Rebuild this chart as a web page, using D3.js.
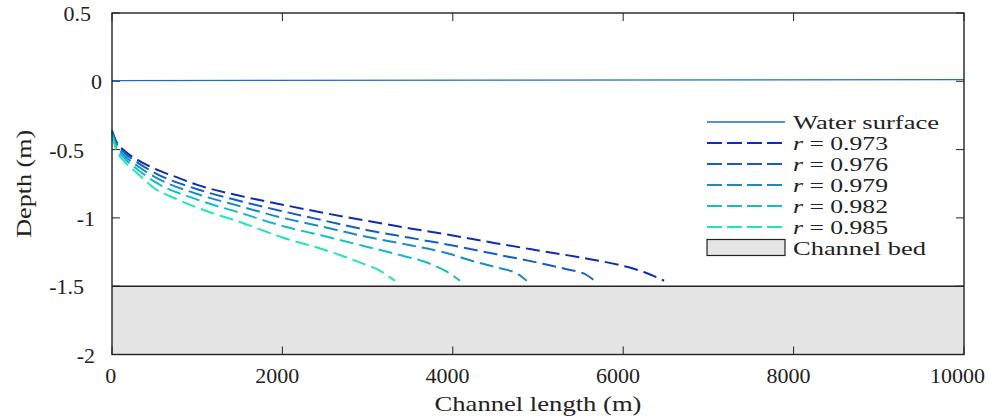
<!DOCTYPE html>
<html><head><meta charset="utf-8">
<script src="https://cdn.jsdelivr.net/npm/d3@7/dist/d3.min.js"></script>
<style>
html,body{margin:0;padding:0;background:#fff;}
svg{display:block;}
text{font-family:"Liberation Serif","Times New Roman",serif;fill:#222;}
</style></head>
<body>
<svg id="chart" width="989" height="419" font-family="Liberation Serif, serif"></svg>
<script>
// ---- data ----
const xTicks = [0, 2000, 4000, 6000, 8000, 10000];
const yTicks = [0.5, 0, -0.5, -1, -1.5, -2];
const yTickLabels = ["0.5", "0", "-0.5", "-1", "-1.5", "-2"];
const xTickLabels = ["0", "2000", "4000", "6000", "8000", "10000"];
const xLabel = "Channel length (m)";
const yLabel = "Depth (m)";
const bedDepth = -1.5;
const surfaceX = [0, 10000];
const surfaceY = [0.005, 0.012];
const rValues = ["0.973", "0.976", "0.979", "0.982", "0.985"];
const x973 = [0, 50, 150, 300, 500, 750, 1000, 1500, 2000, 2500, 3000, 3500, 4000, 4500, 5000, 5500, 6000, 6250, 6480];
const y973 = [-0.36, -0.44, -0.51, -0.575, -0.64, -0.70, -0.758, -0.838, -0.903, -0.965, -1.022, -1.077, -1.129, -1.185, -1.238, -1.29, -1.352, -1.398, -1.46];
const x976 = [0, 50, 150, 300, 500, 1000, 1500, 2000, 2500, 3000, 3500, 4000, 4500, 5000, 5336, 5571, 5665];
const y976 = [-0.37, -0.45, -0.525, -0.595, -0.67, -0.79, -0.876, -0.951, -1.021, -1.09, -1.146, -1.202, -1.265, -1.328, -1.376, -1.418, -1.46];
const x979 = [0, 50, 150, 300, 500, 1000, 1500, 2000, 2500, 3000, 3500, 4000, 4163, 4554, 4750, 4867];
const y979 = [-0.38, -0.465, -0.545, -0.62, -0.70, -0.825, -0.914, -0.999, -1.069, -1.14, -1.20, -1.27, -1.303, -1.369, -1.406, -1.46];
const x982 = [0, 50, 150, 300, 500, 1000, 1500, 2000, 2500, 3000, 3380, 3750, 3930, 4085];
const y982 = [-0.39, -0.48, -0.565, -0.645, -0.735, -0.866, -0.962, -1.059, -1.134, -1.213, -1.272, -1.34, -1.394, -1.46];
const x985 = [0, 50, 150, 300, 500, 750, 1000, 1500, 2000, 2500, 3000, 3150, 3263, 3320];
const y985 = [-0.40, -0.50, -0.59, -0.675, -0.785, -0.86, -0.925, -1.03, -1.143, -1.235, -1.348, -1.387, -1.435, -1.46];
const seriesX = [x973, x976, x979, x982, x985];
const seriesY = [y973, y976, y979, y982, y985];
const legendLabels = ["Water surface", "r = 0.973", "r = 0.976", "r = 0.979", "r = 0.982", "r = 0.985", "Channel bed"];

// ---- styles ----
const colors = ["#0f2db3", "#145ec6", "#1a8cc2", "#12bec4", "#1fe6b9"];
const surfaceColor = "#1f6ebc";
const axisColor = "#222";

const svg = d3.select("#chart");
const L = 112, R = 964, T = 13, B = 354.5;
const x = d3.scaleLinear().domain([0, 10000]).range([L, R]);
const y = d3.scaleLinear().domain([-2, 0.5]).range([B, T]);

// bed
svg.append("rect").attr("x", x(0)).attr("y", y(bedDepth))
  .attr("width", x(10000) - x(0)).attr("height", y(-2) - y(bedDepth))
  .attr("fill", "#e5e5e5");
svg.append("line").attr("x1", x(0)).attr("x2", x(10000)).attr("y1", y(bedDepth)).attr("y2", y(bedDepth))
  .attr("stroke", axisColor).attr("stroke-width", 1.4);

// ticks (inward, all four sides)
const tl = 8;
const tg = svg.append("g").attr("stroke", axisColor).attr("stroke-width", 1);
xTicks.forEach(v => {
  tg.append("line").attr("x1", x(v)).attr("x2", x(v)).attr("y1", B).attr("y2", B - tl);
  tg.append("line").attr("x1", x(v)).attr("x2", x(v)).attr("y1", T).attr("y2", T + tl);
});
yTicks.forEach(v => {
  tg.append("line").attr("y1", y(v)).attr("y2", y(v)).attr("x1", L).attr("x2", L + tl);
  tg.append("line").attr("y1", y(v)).attr("y2", y(v)).attr("x1", R).attr("x2", R - tl);
});

// water surface
const line = d3.line().x(d => x(d[0])).y(d => y(d[1])).curve(d3.curveMonotoneX);
svg.append("path").datum(surfaceX.map((v, i) => [v, surfaceY[i]]))
  .attr("d", line).attr("fill", "none").attr("stroke", surfaceColor).attr("stroke-width", 1.3);

// curves
seriesX.forEach((xs, k) => {
  svg.append("path").datum(xs.map((v, i) => [v, seriesY[k][i]]))
    .attr("d", line).attr("fill", "none").attr("stroke", colors[k])
    .attr("stroke-width", 2).attr("stroke-dasharray", "14,6");
});

// frame
svg.append("rect").attr("x", L).attr("y", T).attr("width", R - L).attr("height", B - T)
  .attr("fill", "none").attr("stroke", axisColor).attr("stroke-width", 1.4);

// tick labels
const fs = 22;
xTicks.forEach((v, i) => {
  const lab = xTickLabels[i];
  svg.append("text").attr("x", x(v) - 1.3 * lab.length).attr("y", 383).attr("text-anchor", "middle")
    .attr("font-size", fs).text(lab);
});
yTicks.forEach((v, i) => {
  const lab = yTickLabels[i];
  let right = 102;
  if (lab.indexOf(".") >= 0) right -= 11;
  if (lab[0] === "-") right -= 7;
  svg.append("text").attr("x", right).attr("y", y(v) + 8).attr("text-anchor", "end")
    .attr("font-size", fs).text(lab);
});

// axis labels
svg.append("text").attr("x", (L + R) / 2).attr("y", 411).attr("text-anchor", "middle")
  .attr("font-size", fs).attr("textLength", 207).attr("lengthAdjust", "spacingAndGlyphs").text(xLabel);
svg.append("text").attr("transform", `translate(31,${(T + B) / 2}) rotate(-90)`)
  .attr("text-anchor", "middle").attr("font-size", fs)
  .attr("textLength", 108).attr("lengthAdjust", "spacingAndGlyphs").text(yLabel);

// legend
const lx0 = 707, lx1 = 785, tx = 793, ly0 = 122, ldy = 21;
const legendWidths = [146, 95, 95, 95, 95, 95, 133];
legendLabels.forEach((lab, i) => {
  const yy = ly0 + i * ldy;
  if (i === 0) {
    svg.append("line").attr("x1", lx0).attr("x2", lx1).attr("y1", yy).attr("y2", yy)
      .attr("stroke", surfaceColor).attr("stroke-width", 1.3);
  } else if (i <= rValues.length) {
    svg.append("line").attr("x1", lx0).attr("x2", lx1).attr("y1", yy).attr("y2", yy)
      .attr("stroke", colors[i - 1]).attr("stroke-width", 2).attr("stroke-dasharray", "15,5");
  } else {
    svg.append("rect").attr("x", lx0).attr("y", yy - 8.5).attr("width", lx1 - lx0).attr("height", 16)
      .attr("fill", "#e5e5e5").attr("stroke", axisColor).attr("stroke-width", 1.2);
  }
  const t = svg.append("text").attr("x", tx).attr("y", yy + 6.5).attr("font-size", 18.5)
    .attr("textLength", legendWidths[i]).attr("lengthAdjust", "spacingAndGlyphs");
  if (lab.startsWith("r = ")) {
    t.append("tspan").attr("font-style", "italic").text("r");
    t.append("tspan").text(" = " + lab.slice(4));
  } else {
    t.text(lab);
  }
});
</script>
</body></html>
